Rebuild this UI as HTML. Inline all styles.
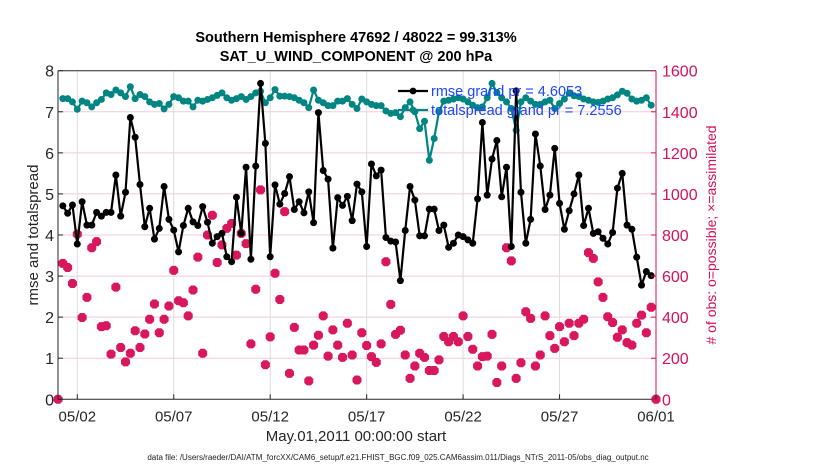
<!DOCTYPE html>
<html><head><meta charset="utf-8"><style>
html,body{margin:0;padding:0;background:#fff;}
svg{display:block;font-family:"Liberation Sans",Arial,sans-serif;}
</style></head><body>
<svg id="chart" width="830" height="470" viewBox="0 0 830 470">
<g id="grid"></g>
<g id="series"></g>
<g id="axes"></g>
<text x="356" y="42" text-anchor="middle" font-size="14.5" font-weight="bold">Southern Hemisphere 47692 / 48022 = 99.313%</text>
<text x="356" y="61" text-anchor="middle" font-size="14.5" font-weight="bold">SAT_U_WIND_COMPONENT @ 200 hPa</text>
<text x="356" y="441" text-anchor="middle" font-size="15" fill="#262626">May.01,2011 00:00:00 start</text>
<text transform="translate(38,235) rotate(-90)" text-anchor="middle" font-size="15" fill="#262626">rmse and totalspread</text>
<text transform="translate(716,235) rotate(-90)" text-anchor="middle" font-size="14" fill="#d6105a"># of obs: o=possible; ×=assimilated</text>
<text x="398" y="460" text-anchor="middle" font-size="8" fill="#222">data file: /Users/raeder/DAI/ATM_forcXX/CAM6_setup/f.e21.FHIST_BGC.f09_025.CAM6assim.011/Diags_NTrS_2011-05/obs_diag_output.nc</text>
<g id="legend"></g>
</svg>
<script>
// days since May 01 00:00, step 0.25 day
const rmse = [null,4.71,4.53,4.73,3.78,4.81,4.24,4.24,4.55,4.46,4.55,4.55,5.46,4.46,5.04,6.86,6.38,5.23,4.20,4.65,3.90,4.16,5.18,4.38,4.12,3.59,4.23,4.65,4.32,4.23,4.69,4.31,3.80,3.96,4.04,3.47,3.35,4.92,4.04,5.65,3.41,5.68,7.69,6.23,3.47,5.22,4.75,5.01,5.42,4.62,4.81,4.54,5.05,4.30,6.98,5.57,5.36,3.68,4.91,4.72,4.94,4.35,5.24,5.05,3.72,5.73,5.44,5.58,3.94,3.85,3.83,2.89,4.11,5.18,4.85,3.98,3.98,4.63,4.63,4.11,4.24,3.70,3.80,4.00,3.96,3.88,3.80,4.88,6.74,4.97,5.85,6.30,4.93,5.65,3.72,7.51,5.04,3.80,4.38,6.46,5.68,4.62,4.97,6.11,4.77,4.14,4.59,5.00,5.46,4.23,4.65,4.04,4.08,3.92,3.78,4.06,5.14,5.50,4.24,4.14,3.46,2.78,3.11,3.01,null];
const spread = [null,7.32,7.32,7.24,7.06,7.26,7.22,7.12,7.22,7.30,7.46,7.42,7.53,7.46,7.37,7.61,7.32,7.42,7.37,7.24,7.18,7.20,7.07,7.18,7.37,7.34,7.26,7.26,7.12,7.28,7.26,7.30,7.34,7.40,7.46,7.34,7.28,7.32,7.37,7.30,7.37,7.46,7.50,7.22,7.34,7.54,7.38,7.38,7.37,7.34,7.28,7.22,7.10,7.53,7.28,7.22,7.15,7.15,7.26,7.26,7.32,7.18,7.08,7.31,7.24,7.18,7.15,7.15,7.02,6.96,6.98,6.88,7.10,7.24,7.00,6.59,6.77,5.82,6.35,7.00,7.26,7.28,7.31,7.34,7.31,7.24,7.16,7.10,7.12,7.34,7.69,7.47,7.34,7.24,7.08,6.55,7.24,7.34,7.26,7.18,7.18,7.24,7.28,7.08,7.20,7.31,7.45,7.39,7.37,7.31,7.28,7.24,7.23,7.26,7.31,7.34,7.41,7.50,7.45,7.31,7.26,7.28,7.34,7.16,null];
const obsUsed = [0,662,642,564,804,398,496,738,768,354,358,220,546,252,182,224,334,252,318,390,464,324,390,454,628,480,470,406,532,692,224,800,896,666,752,832,856,702,808,758,270,536,1020,168,304,614,486,914,126,350,240,240,90,264,312,406,210,338,264,204,370,216,94,324,262,208,180,270,670,462,316,336,216,102,162,224,204,140,140,192,306,280,306,280,406,306,244,162,208,210,316,82,162,738,674,102,178,426,394,162,216,406,310,248,354,280,370,310,370,390,714,686,572,496,402,374,302,338,276,264,370,410,324,448,0];
const xTickLabels = ["05/02","05/07","05/12","05/17","05/22","05/27","06/01"];
const xTickDays = [1,6,11,16,21,26,31];
const yTicks = [0,1,2,3,4,5,6,7,8];
const y2Ticks = [0,200,400,600,800,1000,1200,1400,1600];

const X0=58, X1=656, Y0=399.3, Y1=70.7;
const xs = d => X0 + d/31*(X1-X0);
const ys = v => Y0 - v/8*(Y0-Y1);
const y2s = v => Y0 - v/1600*(Y0-Y1);
const NS="http://www.w3.org/2000/svg";
function mk(tag, attrs, parent){const e=document.createElementNS(NS,tag);for(const k in attrs)e.setAttribute(k,attrs[k]);parent.appendChild(e);return e;}
const grid=document.getElementById('grid'), ser=document.getElementById('series'), axes=document.getElementById('axes'), leg=document.getElementById('legend');

yTicks.forEach(v=>{ if(v>0&&v<8){const l=mk('line',{x1:X0,x2:X1,y1:ys(v),y2:ys(v),stroke:'#f1cbd9','stroke-width':1},grid);

}});
xTickDays.forEach(d=>{ if(d<31){const l=mk('line',{x1:xs(d),x2:xs(d),y1:Y1,y2:Y0,stroke:'#dcdcdc','stroke-width':1},grid);

}});

let a=mk('line',{x1:X0,x2:X0,y1:Y1,y2:Y0,stroke:'#262626','stroke-width':1},axes);


a=mk('line',{x1:X0,x2:X1,y1:Y0,y2:Y0,stroke:'#262626','stroke-width':1},axes);


a=mk('line',{x1:X0,x2:X1,y1:Y1,y2:Y1,stroke:'#262626','stroke-width':1},axes);


a=mk('line',{x1:X1,x2:X1,y1:Y1,y2:Y0,stroke:'#d6105a','stroke-width':1},axes);



yTicks.forEach(v=>{
 const t=mk('line',{x1:X0,x2:X0+5,y1:ys(v),y2:ys(v),stroke:'#262626'},axes);
 
 
 const tx=mk('text',{x:X0-4,y:ys(v)+6,'text-anchor':'end','font-size':16,fill:'#262626'},axes);
 tx.textContent=v;
 
 
});
y2Ticks.forEach(v=>{
 const t=mk('line',{x1:X1-5,x2:X1,y1:y2s(v),y2:y2s(v),stroke:'#d6105a'},axes);
 
 
 const tx=mk('text',{x:X1+6,y:y2s(v)+6,'font-size':16,fill:'#d6105a'},axes);
 tx.textContent=v;
 
 
});
xTickDays.forEach((d,i)=>{
 const t=mk('line',{x1:xs(d),x2:xs(d),y1:Y0,y2:Y0-5,stroke:'#262626'},axes);
 
 
 const tx=mk('text',{x:xs(d),y:Y0+22,'text-anchor':'middle','font-size':15,fill:'#262626'},axes);
 tx.textContent=xTickLabels[i];
 
 
});

function drawLine(arr,color,name){
 let d='';let pen=false;
 arr.forEach((v,i)=>{ if(v==null){pen=false;return;} d+=(pen?'L':'M')+xs(i*0.25).toFixed(2)+','+ys(v).toFixed(2); pen=true;});
 const p=mk('path',{d:d,fill:'none',stroke:color,'stroke-width':2.2,'stroke-linejoin':'round'},ser);
 
 
 arr.forEach((v,i)=>{ if(v==null)return;
  const c=mk('circle',{cx:xs(i*0.25),cy:ys(v),r:3.5,fill:color},ser);
  
  
 });
}
obsUsed.forEach((v,i)=>{
 const x=xs(i*0.25), y=y2s(v), r=5.5, w=2;
 const p=mk('path',{d:`M${x-w},${y-r+1}L${x+w},${y-r+1}L${x+r-1},${y-w}L${x+r-1},${y+w}L${x+w},${y+r-1}L${x-w},${y+r-1}L${x-r+1},${y+w}L${x-r+1},${y-w}Z`,fill:'#d8175e'},ser);
 
 
});
drawLine(spread,'#008583','totalspread');
drawLine(rmse,'#000','rmse');

[['#000','rmse grand pr = 4.6053',91],['#008583','totalspread grand pr = 7.2556',110]].forEach(e=>{
 const l=mk('line',{x1:398,x2:428,y1:e[2],y2:e[2],stroke:e[0],'stroke-width':2.2},leg);
 
 
 const c=mk('circle',{cx:413,cy:e[2],r:3.4,fill:e[0]},leg);
 
 
 const t=mk('text',{x:431,y:e[2]+5,'font-size':14.5,fill:'#1a47ff'},leg);
 t.textContent=e[1];
 
 
});
</script>
</body></html>
